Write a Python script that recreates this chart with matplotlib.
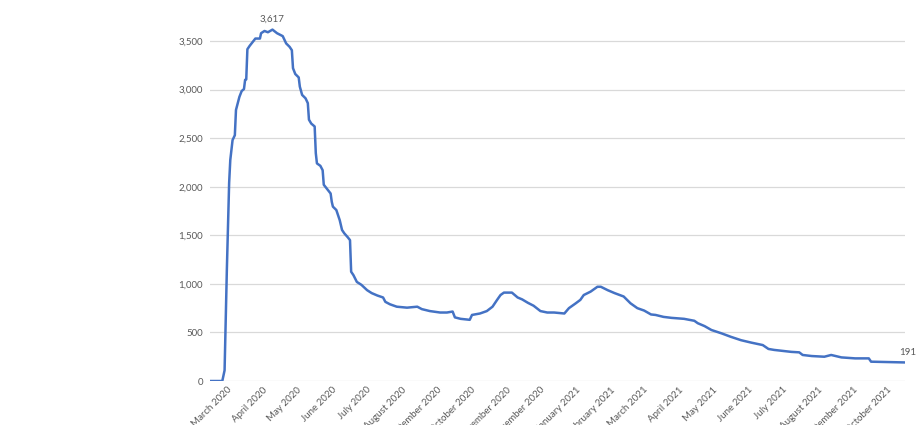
import numpy as np
import pandas as pd
import matplotlib
matplotlib.use("Agg")
import matplotlib.pyplot as plt
from matplotlib.ticker import FuncFormatter

plt.rcParams['font.family'] = ['Lato', 'DejaVu Sans']

# values
dates = ["2020-02-15", "2020-02-26", "2020-02-28", "2020-03-01", "2020-03-03", "2020-03-04",
         "2020-03-06", "2020-03-08", "2020-03-09", "2020-03-12", "2020-03-14", "2020-03-16",
         "2020-03-17", "2020-03-18", "2020-03-19", "2020-03-21", "2020-03-24", "2020-03-26",
         "2020-03-30", "2020-03-31", "2020-04-03", "2020-04-06", "2020-04-10", "2020-04-14",
         "2020-04-19", "2020-04-22", "2020-04-25", "2020-04-27", "2020-04-28", "2020-04-30",
         "2020-05-03", "2020-05-04", "2020-05-06", "2020-05-09", "2020-05-11", "2020-05-12",
         "2020-05-14", "2020-05-17", "2020-05-18", "2020-05-19", "2020-05-22", "2020-05-24",
         "2020-05-25", "2020-05-28", "2020-05-31", "2020-06-01", "2020-06-02", "2020-06-05",
         "2020-06-08", "2020-06-10", "2020-06-12", "2020-06-15", "2020-06-17", "2020-06-18",
         "2020-06-20", "2020-06-23", "2020-06-27", "2020-07-02", "2020-07-06", "2020-07-11",
         "2020-07-16", "2020-07-18", "2020-07-22", "2020-07-28", "2020-08-06", "2020-08-15",
         "2020-08-19", "2020-08-26", "2020-09-04", "2020-09-10", "2020-09-15", "2020-09-17",
         "2020-09-22", "2020-09-30", "2020-10-02", "2020-10-09", "2020-10-15", "2020-10-20",
         "2020-10-24", "2020-10-27", "2020-10-30", "2020-11-06", "2020-11-11", "2020-11-15",
         "2020-11-20", "2020-11-25", "2020-12-01", "2020-12-07", "2020-12-13", "2020-12-22",
         "2020-12-26", "2021-01-01", "2021-01-05", "2021-01-08", "2021-01-14", "2021-01-20",
         "2021-01-23", "2021-01-29", "2021-02-04", "2021-02-12", "2021-02-18", "2021-02-24",
         "2021-03-02", "2021-03-08", "2021-03-12", "2021-03-19", "2021-03-26", "2021-04-06",
         "2021-04-15", "2021-04-18", "2021-04-24", "2021-04-30", "2021-05-09", "2021-05-17",
         "2021-05-26", "2021-06-04", "2021-06-14", "2021-06-19", "2021-06-24", "2021-06-30",
         "2021-07-09", "2021-07-16", "2021-07-19", "2021-07-27", "2021-08-07", "2021-08-13",
         "2021-08-22", "2021-09-03", "2021-09-15", "2021-09-17", "2021-09-29", "2021-10-11",
         "2021-10-17"]

values = [0, 0, 110, 1150, 2040, 2275,
          2480, 2530, 2790, 2925, 2985, 3005,
          3100, 3105, 3415, 3450, 3495, 3525,
          3525, 3580, 3603, 3590, 3617, 3580,
          3550, 3475, 3440, 3405, 3220, 3160,
          3125, 3030, 2945, 2910, 2860, 2690,
          2650, 2620, 2345, 2240, 2215, 2170,
          2020, 1975, 1930, 1845, 1795, 1760,
          1655, 1555, 1520, 1480, 1450, 1125,
          1090, 1020, 990, 935, 905, 880,
          860, 815, 790, 765, 755, 765,
          740, 720, 705, 705, 715, 655,
          640, 630, 680, 695, 720, 765,
          835, 885, 910, 910, 860, 840,
          805, 775, 720, 705, 705, 695,
          750, 800, 835, 885, 920, 970,
          970, 935, 905, 870, 800, 750,
          725, 685, 680, 660, 650, 640,
          620, 595, 565, 525, 490, 455,
          420, 395, 370, 330, 320, 312,
          300, 295, 268, 257, 250, 268,
          243, 233, 233, 199, 196, 192,
          191]

month_labels = ["March 2020", "April 2020", "May 2020", "June 2020", "July 2020",
                "August 2020", "September 2020", "October 2020", "November 2020",
                "December 2020", "January 2021", "February 2021", "March 2021",
                "April 2021", "May 2021", "June 2021", "July 2021", "August 2021",
                "September 2021", "October 2021"]

y_ticks = [0, 500, 1000, 1500, 2000, 2500, 3000, 3500]


def plot_chart():
    x = pd.to_datetime(dates)
    y = np.array(values)
    month_ticks = pd.date_range("2020-03-01", periods=len(month_labels), freq="MS")

    fig = plt.figure(figsize=(9.2, 4.25), dpi=100)
    ax = fig.add_axes([0.228, 0.1035, 0.756, 0.8915])

    ax.plot(x, y, color='#4472C4', linewidth=1.8, solid_joinstyle='round', zorder=3)

    ax.set_xlim(x[0], x[-1])
    ax.set_ylim(0, 3900)
    ax.set_yticks(y_ticks)
    ax.yaxis.set_major_formatter(FuncFormatter(lambda v, p: f"{int(v):,}"))
    ax.grid(axis='y', color='#d9d9d9', linewidth=0.9, zorder=0)

    ax.set_xticks(month_ticks)
    ax.set_xticklabels(month_labels, rotation=45, ha='right', va='top',
                       rotation_mode='anchor')

    for s in ax.spines.values():
        s.set_visible(False)
    ax.tick_params(axis='both', length=0, colors='#595959', labelsize=7)
    ax.tick_params(axis='y', pad=5)
    ax.tick_params(axis='x', pad=3)

    # data labels at peak and last point
    i_max = int(np.argmax(y))
    ax.annotate(f"{y[i_max]:,}", (x[i_max], y[i_max]), xytext=(0, 4),
                textcoords='offset points', ha='center', va='bottom',
                fontsize=7, color='#595959')
    ax.annotate(f"{y[-1]:,}", (x[-1], y[-1]), xytext=(2, 4),
                textcoords='offset points', ha='center', va='bottom',
                fontsize=7, color='#595959', annotation_clip=False)

    fig.savefig("out.png", dpi=100)


plot_chart()
